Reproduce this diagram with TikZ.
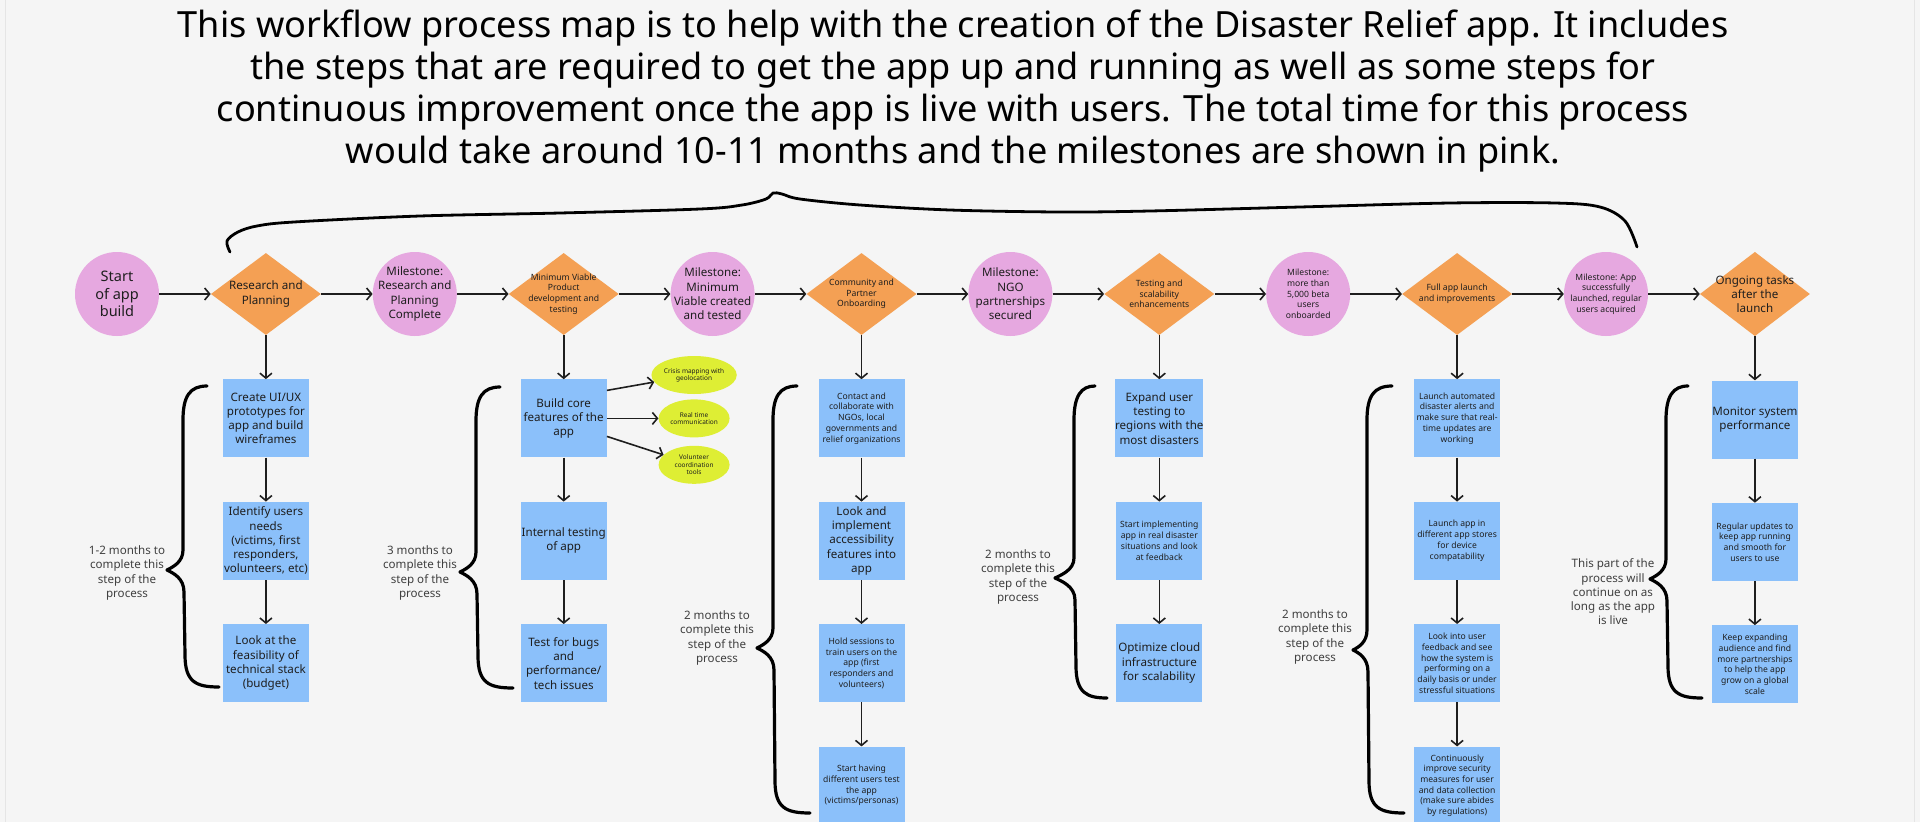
\documentclass[tikz,border=0pt]{standalone}
\usepackage{fontspec}
\setmainfont{Noto Sans}
\usepackage{tikz}
\usetikzlibrary{positioning}
\usetikzlibrary{shapes.geometric, arrows.meta}

\definecolor{mspink}{RGB}{230,168,224}
\definecolor{phorange}{RGB}{244,160,84}
\definecolor{taskblue}{RGB}{139,192,250}
\definecolor{featgreen}{RGB}{222,238,52}
\definecolor{canvasgray}{RGB}{245,245,245}
\definecolor{ink}{RGB}{30,30,30}

\newcommand{\fstitle}{\fontsize{36.1}{42}\selectfont}
\newcommand{\fsbig}{\fontsize{14.5}{17.7}\selectfont}
\newcommand{\fsmid}{\fontsize{11.6}{14.3}\selectfont}
\newcommand{\fssmall}{\fontsize{8.6}{10.7}\selectfont}
\newcommand{\fstiny}{\fontsize{6.5}{7.3}\selectfont}

\begin{document}
\begin{tikzpicture}[x=1pt, y=-1pt,
    node distance = 44pt and 51.5pt,% vertical and horizontal gaps
    milestone/.style = {circle, fill=mspink, minimum size=84pt, inner sep=-8pt, align=center, text=ink, font=\fsmid},
    phase/.style = {diamond, fill=phorange, minimum width=110pt, minimum height=82pt, inner sep=-8pt, align=center, text=ink, font=\fssmall},
    task/.style = {rectangle, fill=taskblue, minimum width=86pt, minimum height=78pt, inner sep=0pt, align=center, text=ink, font=\fssmall},
    feature/.style = {ellipse, fill=featgreen, minimum width=71pt, minimum height=38pt, inner sep=0pt, align=center, text=ink, font=\fstiny},
    note/.style = {align=center, text=ink!85, font=\fsmid},
    flow/.style = {-{Straight Barb[length=5pt, width=12pt]}, line width=1.6pt, draw=ink},
    bracestroke/.style = {line width=3.2pt, line cap=round, line join=round}
    ]
    \fill[canvasgray] (0,0) rectangle (1920,822);
    \useasboundingbox (0,0) rectangle (1920,822);
    \draw[gray!20, line width=1pt] (5,0) -- (5,822) (1914,0) -- (1914,822);

    \node (title) [font=\fstitle, align=center, text=black] at (953,91) {This workflow process map is to help with the creation of the Disaster Relief app. It includes\\the steps that are required to get the app up and running as well as some steps for\\continuous improvement once the app is live with users. The total time for this process\\would take around 10-11 months and the milestones are shown in pink.};

    % main line
    \node (start) [milestone, font=\fsbig] at (117,294) {Start\\of app\\build};
    \node (research) [phase, font=\fsmid, right=of start] {Research and\\Planning};
    \node (msresearch) [milestone, right=of research] {Milestone:\\Research and\\Planning\\Complete};
    \node (mvp) [phase, right=of msresearch] {Minimum Viable\\Product\\development and\\testing};
    \node (msmvp) [milestone, right=of mvp] {Milestone:\\Minimum\\Viable created\\and tested};
    \node (community) [phase, right=of msmvp] {Community and\\Partner\\Onboarding};
    \node (msngo) [milestone, right=of community] {Milestone:\\NGO\\partnerships\\secured};
    \node (scaling) [phase, right=of msngo] {Testing and\\scalability\\enhancements};
    \node (msbeta) [milestone, font=\fssmall, right=of scaling] {Milestone:\\more than\\5,000 beta\\users\\onboarded};
    \node (launch) [phase, right=of msbeta] {Full app launch\\and improvements};
    \node (mslaunch) [milestone, font=\fssmall, right=of launch] {Milestone: App\\successfully\\launched, regular\\users acquired};
    \node (ongoing) [phase, font=\fsmid, right=of mslaunch] {Ongoing tasks\\after the\\launch};

    \draw[flow] (start) -- (research);
    \draw[flow] (research) -- (msresearch);
    \draw[flow] (msresearch) -- (mvp);
    \draw[flow] (mvp) -- (msmvp);
    \draw[flow] (msmvp) -- (community);
    \draw[flow] (community) -- (msngo);
    \draw[flow] (msngo) -- (scaling);
    \draw[flow] (scaling) -- (msbeta);
    \draw[flow] (msbeta) -- (launch);
    \draw[flow] (launch) -- (mslaunch);
    \draw[flow] (mslaunch) -- (ongoing);

    % research and planning
    \node (uiux) [task, font=\fsmid, below=of research] {Create UI/UX\\prototypes for\\app and build\\wireframes};
    \node (needs) [task, font=\fsmid, below=of uiux] {Identify users\\needs\\(victims, first\\responders,\\volunteers, etc)};
    \node (stack) [task, font=\fsmid, below=of needs] {Look at the\\feasibility of\\technical stack\\(budget)};
    \draw[flow] (research) -- (uiux);
    \draw[flow] (uiux) -- (needs);
    \draw[flow] (needs) -- (stack);

    % minimum viable product
    \node (core) [task, font=\fsmid, below=of mvp] {Build core\\features of the\\app};
    \node (inttest) [task, font=\fsmid, below=of core] {Internal testing\\of app};
    \node (bugs) [task, font=\fsmid, below=of inttest] {Test for bugs\\and\\performance/\\tech issues};
    \node (realtime) [feature, right=of core] {Real time\\communication};
    \node (mapping) [feature, above=5pt of realtime] {Crisis mapping with\\geolocation};
    \node (volunteer) [feature, below=8pt of realtime] {Volunteer\\coordination\\tools};
    \draw[flow] (mvp) -- (core);
    \draw[flow] (core) -- (inttest);
    \draw[flow] (inttest) -- (bugs);
    \draw[flow] ([yshift=28pt]core.east) -- (mapping);
    \draw[flow] (core.east) -- (realtime.west);
    \draw[flow] ([yshift=-18pt]core.east) -- (volunteer);

    % community and partners
    \node (contact) [task, below=of community] {Contact and\\collaborate with\\NGOs, local\\governments and\\relief organizations};
    \node (access) [task, font=\fsmid, below=of contact] {Look and\\implement\\accessibility\\features into\\app};
    \node (training) [task, below=of access] {Hold sessions to\\train users on the\\app (first\\responders and\\volunteers)};
    \node (personas) [task, below=of training] {Start having\\different users test\\the app\\(victims/personas)};
    \draw[flow] (community) -- (contact);
    \draw[flow] (contact) -- (access);
    \draw[flow] (access) -- (training);
    \draw[flow] (training) -- (personas);

    % testing and scalability
    \node (expand) [task, font=\fsmid, below=of scaling] {Expand user\\testing to\\regions with the\\most disasters};
    \node (realuse) [task, below=of expand] {Start implementing\\app in real disaster\\situations and look\\at feedback};
    \node (cloud) [task, font=\fsmid, below=of realuse] {Optimize cloud\\infrastructure\\for scalability};
    \draw[flow] (scaling) -- (expand);
    \draw[flow] (expand) -- (realuse);
    \draw[flow] (realuse) -- (cloud);

    % full launch
    \node (alerts) [task, below=of launch] {Launch automated\\disaster alerts and\\make sure that real-\\time updates are\\working};
    \node (stores) [task, below=of alerts] {Launch app in\\different app stores\\for device\\compatability};
    \node (feedback) [task, below=of stores] {Look into user\\feedback and see\\how the system is\\performing on a\\daily basis or under\\stressful situations};
    \node (security) [task, below=of feedback] {Continuously\\improve security\\measures for user\\and data collection\\(make sure abides\\by regulations)};
    \draw[flow] (launch) -- (alerts);
    \draw[flow] (alerts) -- (stores);
    \draw[flow] (stores) -- (feedback);
    \draw[flow] (feedback) -- (security);

    % ongoing
    \node (monitor) [task, font=\fsmid, below=of ongoing] {Monitor system\\performance};
    \node (updates) [task, below=of monitor] {Regular updates to\\keep app running\\and smooth for\\users to use};
    \node (growth) [task, below=of updates] {Keep expanding\\audience and find\\more partnerships\\to help the app\\grow on a global\\scale};
    \draw[flow] (ongoing) -- (monitor);
    \draw[flow] (monitor) -- (updates);
    \draw[flow] (updates) -- (growth);

    % time spans
    \draw[bracestroke] (207,386) .. controls (190,386) and (183,396) .. (183,420) -- (183,550) .. controls (183,562) and (173,567) .. (167,570) .. controls (173,573) and (184,578) .. (184,592) -- (185,655) .. controls (185,682) and (196,687) .. (219,687);
    \draw[bracestroke] (500,387) .. controls (483,387) and (476,397) .. (476,421) -- (476,552) .. controls (476,564) and (466,569) .. (460,572) .. controls (466,575) and (477,580) .. (477,594) -- (478,656) .. controls (478,683) and (489,688) .. (513,688);
    \draw[bracestroke] (797,386) .. controls (780,386) and (773,396) .. (773,420) -- (773,628) .. controls (773,640) and (763,645) .. (757,648) .. controls (763,651) and (774,656) .. (774,670) -- (775,781) .. controls (775,808) and (786,813) .. (810,813);
    \draw[bracestroke] (1095,386) .. controls (1081,386) and (1074,396) .. (1074,420) -- (1074,558) .. controls (1074,570) and (1061,575) .. (1055,578) .. controls (1061,581) and (1075,586) .. (1075,600) -- (1076,666) .. controls (1076,693) and (1087,698) .. (1107,698);
    \draw[bracestroke] (1392,386) .. controls (1374,386) and (1367,396) .. (1367,420) -- (1367,630) .. controls (1367,642) and (1359,647) .. (1353,650) .. controls (1359,653) and (1368,658) .. (1368,672) -- (1369,781) .. controls (1369,808) and (1380,813) .. (1404,813);
    \draw[bracestroke] (1688,386) .. controls (1673,386) and (1666,396) .. (1666,420) -- (1666,559) .. controls (1666,571) and (1656,576) .. (1650,579) .. controls (1656,582) and (1667,587) .. (1667,601) -- (1668,666) .. controls (1668,693) and (1679,698) .. (1702,698);

    \node (span1) [note] at (127,573) {1-2 months to\\complete this\\step of the\\process};
    \node (span2) [note] at (420,573) {3 months to\\complete this\\step of the\\process};
    \node (span3) [note] at (717,638) {2 months to\\complete this\\step of the\\process};
    \node (span4) [note] at (1018,577) {2 months to\\complete this\\step of the\\process};
    \node (span5) [note] at (1315,637) {2 months to\\complete this\\step of the\\process};
    \node (span6) [note] at (1613,592) {This part of the\\process will\\continue on as\\long as the app\\is live};

    % whole app build
    \draw[bracestroke, line width=2.8pt] plot[smooth, tension=0.55] coordinates {(230,252) (227,241) (238,232) (257,226) (294,222) (420,216) (560,213) (700,209) (742,205) (766,199) (773,193) (782,194) (800,199) (860,205) (950,210) (1060,212) (1150,211) (1300,207) (1450,203) (1555,203) (1600,207) (1625,221) (1637,247)};
\end{tikzpicture}
\end{document}
